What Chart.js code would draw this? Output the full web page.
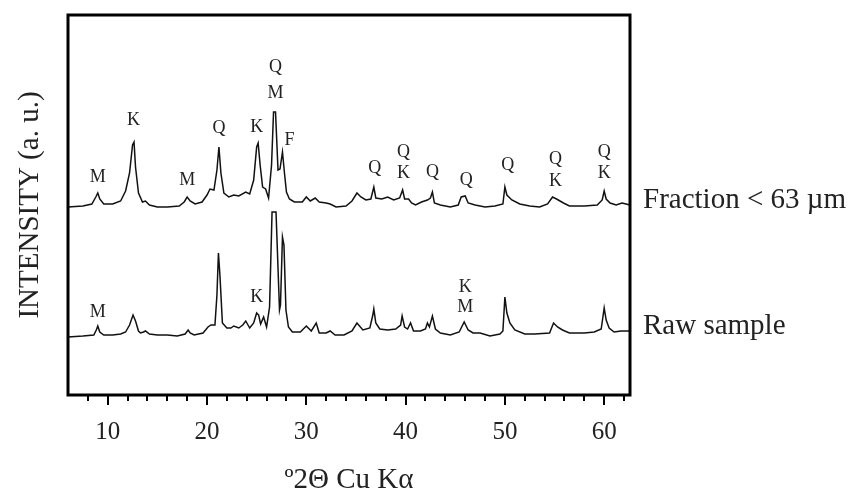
<!DOCTYPE html>
<html>
<head>
<meta charset="utf-8">
<script src="https://cdn.jsdelivr.net/npm/chart.js@4.4.1/dist/chart.umd.min.js"></script>
<style>
  html, body { margin: 0; padding: 0; background: #fff; }
  #wrap { width: 865px; height: 501px; }
</style>
</head>
<body>
<div id="wrap"><canvas id="xrdChart" width="865" height="501"></canvas></div>
<script>
// 2-theta positions and intensities (arbitrary units, raw sample offset below)
var fractionTheta = [6.0, 7.5, 8.4, 8.8, 9.0, 9.2, 9.6, 10.5, 11.3, 11.8, 12.2, 12.5, 12.65, 12.8, 13.1, 13.5, 13.8, 14.2, 15.0, 16.0,
  17.2, 17.7, 18.0, 18.3, 18.8, 19.5, 20.0, 20.3, 20.7, 21.0, 21.2, 21.4, 21.7, 22.2, 22.7, 23.2, 23.9, 24.3, 24.7, 25.0,
  25.15, 25.35, 25.6, 25.9, 26.2, 26.5, 26.7, 26.9, 27.15, 27.35, 27.6, 27.8, 28.0, 28.3, 28.8, 29.6, 30.0, 30.4, 30.9, 31.3,
  32.0, 32.4, 33.0, 34.0, 34.6, 35.1, 35.5, 36.0, 36.5, 36.8, 37.0, 37.6, 38.2, 38.8, 39.4, 39.7, 39.9, 40.3, 40.6, 41.0,
  41.6, 42.2, 42.5, 42.7, 42.9, 43.5, 44.5, 45.3, 45.6, 46.0, 46.3, 47.0, 48.0, 49.0, 49.8, 50.0, 50.2, 50.7, 51.5, 52.5,
  53.5, 54.3, 54.8, 55.2, 55.9, 56.5, 58.0, 59.3, 59.8, 60.0, 60.2, 60.6, 61.2, 61.8, 62.2, 62.6];
var fractionCounts = [188, 189, 191, 198, 202, 196, 191, 191, 194, 204, 222, 250, 253, 228, 202, 193, 194, 190, 188, 188,
  189, 193, 198, 194, 191, 193, 200, 206, 205, 225, 248, 222, 202, 198, 200, 199, 203, 201, 215, 248,
  252, 230, 208, 206, 197, 230, 283, 283, 225, 226, 243, 222, 203, 196, 193, 193, 198, 194, 197, 193,
  192, 191, 188, 189, 194, 202, 198, 195, 196, 208, 197, 196, 198, 195, 197, 205, 196, 196, 192, 190,
  193, 195, 197, 203, 192, 190, 188, 190, 198, 199, 192, 190, 188, 189, 191, 208, 200, 195, 191, 189,
  188, 191, 198, 196, 192, 189, 189, 190, 195, 204, 196, 192, 190, 192, 191, 190];

var rawTheta = [6.0, 7.5, 8.6, 8.85, 9.0, 9.2, 9.6, 10.5, 11.3, 11.8, 12.2, 12.55, 12.8, 13.1, 13.3, 13.6, 13.8, 14.2, 15.0, 16.0,
  17.0, 17.8, 18.1, 18.3, 18.7, 19.6, 20.1, 20.4, 20.8, 21.0, 21.15, 21.3, 21.55, 22.0, 22.4, 22.7, 23.2, 23.6, 23.9, 24.3,
  24.7, 25.0, 25.2, 25.4, 25.7, 26.0, 26.3, 26.55, 26.95, 27.3, 27.4, 27.6, 27.75, 27.95, 28.2, 28.6, 29.4, 30.0, 30.5, 31.0,
  31.3, 32.0, 32.4, 32.9, 33.8, 34.6, 35.1, 35.7, 36.4, 36.7, 36.8, 37.0, 37.4, 38.2, 39.0, 39.5, 39.65, 39.9, 40.2, 40.5,
  40.8, 41.5, 42.0, 42.2, 42.4, 42.7, 43.0, 43.5, 44.5, 45.4, 45.9, 46.3, 46.8, 47.5, 48.5, 49.5, 49.8, 50.0, 50.2, 50.5,
  51.0, 52.0, 53.0, 54.5, 54.9, 55.3, 55.8, 56.5, 58.0, 59.0, 59.7, 60.0, 60.2, 60.5, 61.0, 61.7, 62.6];
var rawCounts = [58, 59, 60, 65, 69, 63, 60, 60, 61, 63, 70, 80, 74, 64, 62, 63, 64, 61, 60, 60,
  59, 61, 65, 62, 60, 62, 68, 70, 70, 100, 142, 120, 72, 67, 67, 69, 67, 70, 74, 67,
  72, 82, 80, 71, 78, 68, 88, 183, 183, 85, 90, 158, 150, 85, 68, 63, 63, 69, 64, 72,
  62, 62, 64, 60, 60, 64, 72, 65, 67, 80, 86, 72, 66, 65, 66, 70, 79, 68, 66, 72,
  64, 64, 66, 72, 68, 79, 66, 62, 60, 63, 73, 65, 62, 62, 59, 61, 64, 98, 82, 72,
  65, 61, 61, 62, 72, 68, 65, 62, 62, 63, 66, 87, 75, 67, 63, 64, 64];

// phase labels: M = mica, K = kaolinite, Q = quartz, F = feldspar
var peakLabelText  = ["M", "K", "M", "Q", "K", "Q", "M", "F", "Q", "Q", "K", "Q", "Q", "Q", "Q", "K", "Q", "K", "M", "K", "K", "M"];
var peakLabelTheta = [9.0, 12.6, 18.0, 21.2, 25.0, 26.9, 26.9, 28.3, 36.9, 39.8, 39.8, 42.7, 46.1, 50.3, 55.1, 55.1, 60.0, 60.0, 9.0, 25.0, 46.0, 46.0];
var peakLabelLevel = [218, 275, 215, 267, 268, 328, 302, 255, 227, 243, 222, 223, 215, 230, 236, 214, 243, 222, 83, 98, 108, 88];

var seriesNames = ["Fraction < 63 µm", "Raw sample"];
var xTickLabels = [10, 20, 30, 40, 50, 60];

var serif = "'Liberation Serif', 'Times New Roman', serif";

function toPoints(xs, ys) {
  return xs.map(function (x, i) { return { x: x, y: ys[i] }; });
}

var xrdDecorations = {
  id: "xrdDecorations",
  afterDatasetsDraw: function (chart) {
    var ctx = chart.ctx;
    var xs = chart.scales.x;
    var ys = chart.scales.y;
    ctx.save();
    ctx.fillStyle = "#222";
    ctx.font = "18px " + serif;
    ctx.textAlign = "center";
    ctx.textBaseline = "middle";
    for (var i = 0; i < peakLabelText.length; i++) {
      ctx.fillText(peakLabelText[i], xs.getPixelForValue(peakLabelTheta[i]), ys.getPixelForValue(peakLabelLevel[i]));
    }
    // series names next to the end of each trace
    ctx.font = "29px " + serif;
    ctx.textAlign = "left";
    ctx.textBaseline = "alphabetic";
    chart.data.datasets.forEach(function (ds, k) {
      var last = ds.data[ds.data.length - 1];
      ctx.fillText(seriesNames[k], chart.chartArea.right + 13, ys.getPixelForValue(last.y) + 3);
    });
    ctx.restore();
  },
  afterDraw: function (chart) {
    var ctx = chart.ctx;
    var area = chart.chartArea;
    var xs = chart.scales.x;
    ctx.save();
    ctx.strokeStyle = "#000";
    ctx.lineWidth = 3;
    ctx.strokeRect(area.left, area.top, area.right - area.left, area.bottom - area.top);
    ctx.lineWidth = 2;
    for (var v = 8; v <= 62; v += 2) {
      var px = Math.round(xs.getPixelForValue(v));
      var len = v % 10 === 0 ? 10 : 6;
      ctx.beginPath();
      ctx.moveTo(px, area.bottom);
      ctx.lineTo(px, area.bottom + len);
      ctx.stroke();
    }
    ctx.restore();
  }
};

var xrdCanvas = document.getElementById("xrdChart").getContext("2d");

new Chart(xrdCanvas, {
  type: "line",
  data: {
    datasets: [
      {
        label: seriesNames[0],
        data: toPoints(fractionTheta, fractionCounts),
        borderColor: "#111",
        borderWidth: 1.5,
        pointRadius: 0,
        tension: 0,
        fill: false
      },
      {
        label: seriesNames[1],
        data: toPoints(rawTheta, rawCounts),
        borderColor: "#111",
        borderWidth: 1.5,
        pointRadius: 0,
        tension: 0,
        fill: false
      }
    ]
  },
  options: {
    responsive: false,
    animation: false,
    layout: { padding: { top: 15, right: 235, left: 0, bottom: 0 } },
    plugins: {
      legend: { display: false },
      tooltip: { enabled: false }
    },
    scales: {
      x: {
        type: "linear",
        min: 6,
        max: 62.6,
        grid: { display: false },
        border: { display: false },
        afterFit: function (scale) { scale.height = 106; },
        ticks: {
          stepSize: 2,
          includeBounds: false,
          autoSkip: false,
          maxRotation: 0,
          padding: 14,
          color: "#222",
          font: { family: serif, size: 25 },
          callback: function (value) {
            return xTickLabels.indexOf(value) >= 0 ? String(value) : "";
          }
        },
        title: {
          display: true,
          text: "º2Θ Cu Kα",
          color: "#222",
          font: { family: serif, size: 29 },
          padding: { top: 0, bottom: 3 }
        }
      },
      y: {
        min: 0,
        max: 380,
        grid: { display: false },
        border: { display: false },
        ticks: { display: false },
        afterFit: function (scale) { scale.width = 68; },
        title: {
          display: true,
          text: "INTENSITY (a. u.)",
          color: "#222",
          font: { family: serif, size: 29 },
          padding: { top: 13, bottom: 0 }
        }
      }
    }
  },
  plugins: [xrdDecorations]
});
</script>
</body>
</html>
